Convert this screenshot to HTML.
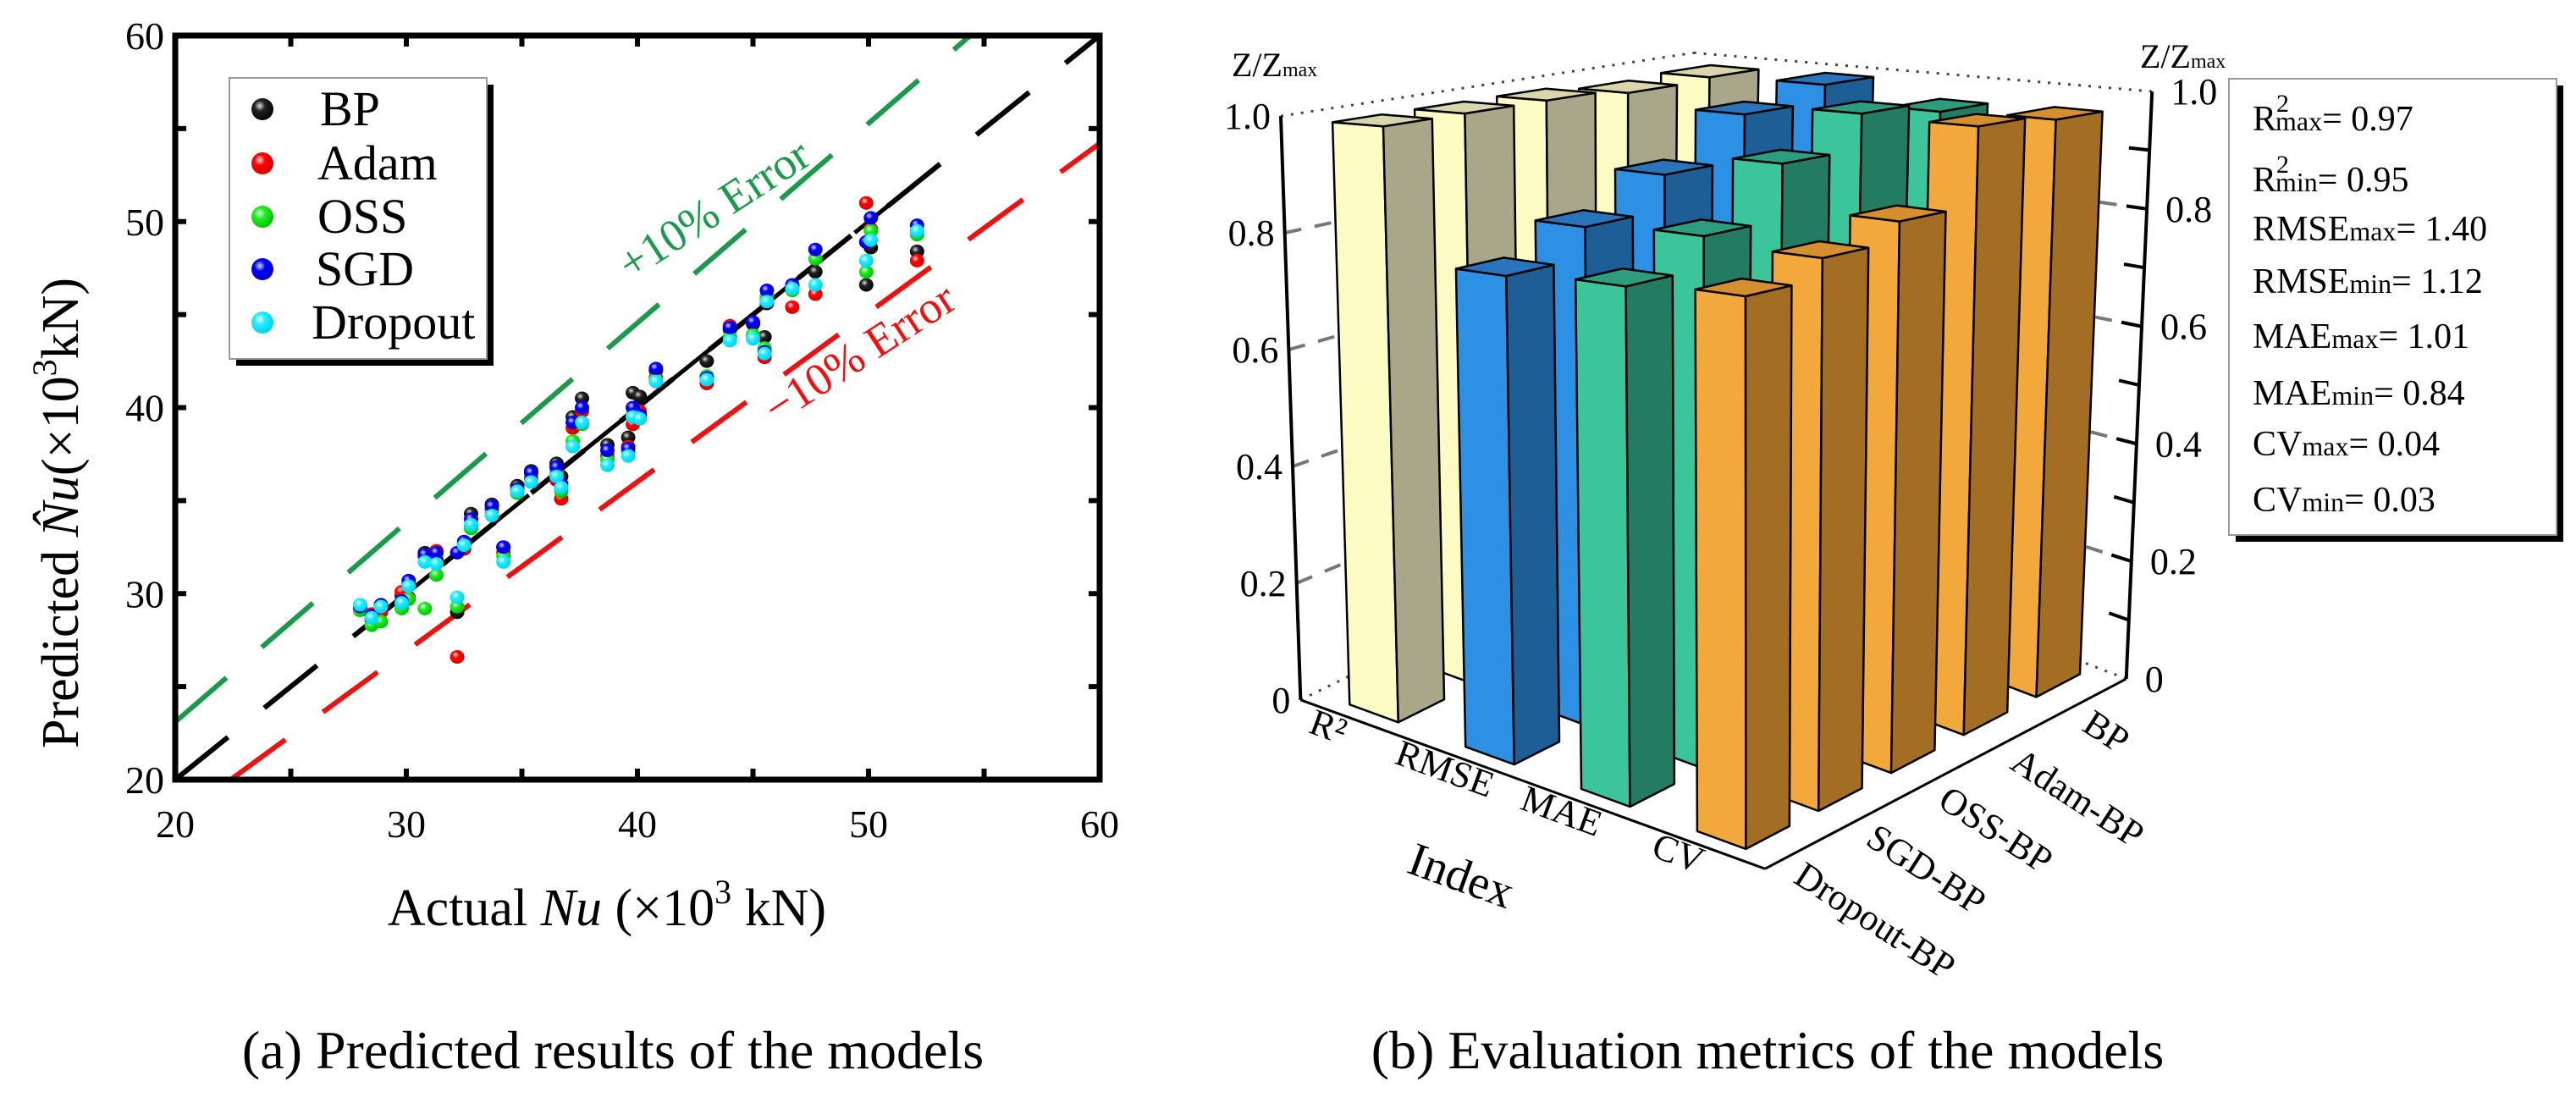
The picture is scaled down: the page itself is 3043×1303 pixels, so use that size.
<!DOCTYPE html>
<html><head><meta charset="utf-8"><style>
html,body{margin:0;padding:0;background:#fff;}
svg{display:block;font-family:"Liberation Serif",serif;}
</style></head><body>
<svg id="fig" width="3043" height="1303" viewBox="0 0 3043 1303" xmlns="http://www.w3.org/2000/svg">
<defs>
<radialGradient id="gBP" cx="0.38" cy="0.35" r="0.7"><stop offset="0" stop-color="#ddd"/><stop offset="0.35" stop-color="#222"/><stop offset="1" stop-color="#000"/></radialGradient>
<radialGradient id="gAdam" cx="0.38" cy="0.35" r="0.7"><stop offset="0" stop-color="#fdd"/><stop offset="0.35" stop-color="#f00"/><stop offset="1" stop-color="#c00"/></radialGradient>
<radialGradient id="gOSS" cx="0.38" cy="0.35" r="0.7"><stop offset="0" stop-color="#dfd"/><stop offset="0.35" stop-color="#2e2"/><stop offset="1" stop-color="#0b0"/></radialGradient>
<radialGradient id="gSGD" cx="0.38" cy="0.35" r="0.7"><stop offset="0" stop-color="#ddf"/><stop offset="0.35" stop-color="#00f"/><stop offset="1" stop-color="#00b"/></radialGradient>
<radialGradient id="gDrop" cx="0.38" cy="0.35" r="0.7"><stop offset="0" stop-color="#eff"/><stop offset="0.35" stop-color="#2ef"/><stop offset="1" stop-color="#0ce"/></radialGradient>
</defs>
<g id="left"></g>
<g id="right"></g>
<text x="724" y="1262" font-size="64" text-anchor="middle">(a) Predicted results of the models</text>
<text x="2088" y="1262" font-size="64" text-anchor="middle">(b) Evaluation metrics of the models</text>
</svg>
<script>
// ---------- Panel (a) data ----------
const xTicks = [20, 30, 40, 50, 60];
const yTicks = [20, 30, 40, 50, 60];
const actual = [28.0,28.5,28.9,29.8,30.1,30.8,31.3,32.2,32.5,32.8,33.7,34.2,34.8,35.4,36.5,36.7,37.2,37.6,38.7,39.6,39.8,40.1,40.8,43.0,44.0,45.0,45.5,45.6,46.7,47.7,49.9,50.1,52.1];
const bpPred = [29.2,28.6,29.3,29.9,30.5,32.2,31.8,29.0,32.6,34.3,34.8,32.5,35.8,36.6,37.0,36.3,39.5,40.5,38.0,38.4,40.8,40.6,42.0,42.5,44.2,44.5,43.8,45.6,46.5,47.3,46.6,48.6,48.4];
const adamPred = [29.2,28.9,29.0,30.1,29.8,32.0,32.3,26.6,32.4,33.6,34.5,32.2,35.5,36.2,36.1,35.1,38.9,39.8,37.4,37.9,39.1,39.8,41.6,41.3,44.4,43.9,42.7,45.8,45.4,46.1,51.0,49.6,47.9];
const ossPred = [29.1,28.3,28.5,29.2,29.7,29.2,31.0,29.3,32.7,33.5,34.3,32.0,35.4,36.0,36.5,35.5,38.2,39.1,37.2,37.6,39.6,39.5,41.5,41.7,43.8,43.9,43.2,46.0,46.3,48.0,47.3,49.5,49.3];
const sgdPred = [29.3,28.8,29.4,29.6,30.7,32.1,32.2,32.2,32.8,34.0,34.7,32.5,35.6,36.5,36.8,35.9,39.2,40.0,37.7,37.8,40.0,39.6,42.1,41.6,44.3,44.6,43.0,46.3,46.6,48.5,48.9,50.2,49.8];
const dropPred = [29.4,28.7,29.3,29.5,30.4,31.7,31.6,29.8,32.6,33.7,34.2,31.7,35.5,36.0,36.3,35.7,37.9,39.2,36.9,37.4,39.5,39.4,41.4,41.5,43.6,43.7,42.9,45.7,46.4,46.6,47.9,49.0,49.5];
const fitSegments = [[28.3,31.2],[32.7,35.3],[36.6,39.6],[41.0,43.9],[45.3,47.9],[49.4,52.1]];

// ---------- Panel (b) data ----------
const indexLabels = ['R\u00B2','RMSE','MAE','CV'];
const modelLabels = ['BP','Adam-BP','OSS-BP','SGD-BP','Dropout-BP'];
const r2Vals   = [0.985,0.98,0.99,0.99,0.99];
const rmseVals = [0.99,0.96,0.88,0.82,0.77];
const maeVals  = [0.96,0.98,0.92,0.83,0.78];
const cvVals   = [0.965,0.976,0.85,0.82,0.79];
const zTicks = [0,0.2,0.4,0.6,0.8,1.0];
const zTickLabels = ['0','0.2','0.4','0.6','0.8','1.0'];

const NS='http://www.w3.org/2000/svg';
function mk(parent, tag, attrs){ const e=document.createElementNS(NS,tag); for(const k in attrs) e.setAttribute(k,attrs[k]); parent.appendChild(e); return e; }

// ===== Panel (a) =====
const L = document.getElementById('left');
const X = v => 207 + (v-20)*27.3;
const Y = v => 921 - (v-20)*21.975;

function refLine(x1,y1,x2,y2,color,name){
  const l=mk(L,'line',{x1:X(x1),y1:Y(y1),x2:X(x2),y2:Y(y2),stroke:color,'stroke-width':6,'stroke-dasharray':'80 55'});
  
  
}
refLine(20,23.1,54.4,60,'#1a9a4a','plus10-error-line');
refLine(20,20,60,60,'#000','ideal-line');
refLine(22.4,20,60,54.2,'#ee1111','minus10-error-line');
fitSegments.forEach(s=>{
  const l=mk(L,'line',{x1:X(s[0]),y1:Y(s[0]),x2:X(s[1]),y2:Y(s[1]),stroke:'#000','stroke-width':5});
  
  
});
const series=[['bp',bpPred,'gBP'],['adam',adamPred,'gAdam'],['oss',ossPred,'gOSS'],['sgd',sgdPred,'gSGD'],['dropout',dropPred,'gDrop']];
series.forEach(s=>{
  s[1].forEach((v,i)=>{
    const c=mk(L,'ellipse',{cx:X(actual[i]),cy:Y(v),rx:8.5,ry:8,fill:'url(#'+s[2]+')'});
    
    
  });
});
const fr=mk(L,'rect',{x:X(20),y:Y(60),width:X(60)-X(20),height:Y(20)-Y(60),fill:'none',stroke:'#000','stroke-width':7});


for(let v=25; v<60; v+=5){
  mk(L,'line',{x1:X(v),y1:Y(20),x2:X(v),y2:Y(20)-13,stroke:'#000','stroke-width':6});
  mk(L,'line',{x1:X(v),y1:Y(60),x2:X(v),y2:Y(60)+13,stroke:'#000','stroke-width':6});
  mk(L,'line',{x1:X(20),y1:Y(v),x2:X(20)+13,y2:Y(v),stroke:'#000','stroke-width':6});
  mk(L,'line',{x1:X(60),y1:Y(v),x2:X(60)-13,y2:Y(v),stroke:'#000','stroke-width':6});
}
xTicks.forEach(t=>{
  const e=mk(L,'text',{x:X(t),y:989,'font-size':46,'text-anchor':'middle'}); e.textContent=t;
  
  
});
yTicks.forEach(t=>{
  const e=mk(L,'text',{x:194,y:Y(t)+16,'font-size':46,'text-anchor':'end'}); e.textContent=t;
  
  
});
</script>
<script>
(function(){
const L=document.getElementById('left');
L.insertAdjacentHTML('beforeend',`
<g>
<rect x="279" y="100" width="304" height="332" fill="#000"/>
<rect x="271" y="92" width="304" height="332" fill="#fff" stroke="#999" stroke-width="2"/>
<circle cx="310" cy="129" r="13" fill="url(#gBP)"/><text x="378" y="148" font-size="58">BP</text>
<circle cx="310" cy="193" r="13" fill="url(#gAdam)"/><text x="375" y="212" font-size="58">Adam</text>
<circle cx="310" cy="256" r="13" fill="url(#gOSS)"/><text x="375" y="275" font-size="58">OSS</text>
<circle cx="310" cy="318" r="13" fill="url(#gSGD)"/><text x="373" y="337" font-size="58">SGD</text>
<circle cx="310" cy="381" r="13" fill="url(#gDrop)"/><text x="368" y="400" font-size="58">Dropout</text>
</g>
<text transform="translate(853,262) rotate(-33)" font-size="54" fill="#1a9a4a" text-anchor="middle">+10% Error</text>
<text transform="translate(1025,432) rotate(-33)" font-size="54" fill="#ee1111" text-anchor="middle">&#8722;10% Error</text>
<text x="717" y="1093" font-size="62" text-anchor="middle">Actual  <tspan font-style="italic">Nu</tspan> (×10<tspan dy="-26" font-size="40">3</tspan><tspan dy="26"> kN)</tspan></text>
<text transform="translate(92,606) rotate(-90)" font-size="62" text-anchor="middle">Predicted <tspan font-style="italic">N&#770;u</tspan>(×10<tspan dy="-26" font-size="40">3</tspan><tspan dy="26">kN)</tspan></text>
`);
})();
</script>
<script>
(function(){
const R=document.getElementById('right');
function P(a,b,h){
  const s=1015-185*a-180*b;
  const zx=625-540*a+420*b+30*a*b + h*(-23*a+30*b);
  const zy=1235-240*a-270*b - h*s;
  return [1450+zx*1.016, zy*0.831];
}
function pt(p){return p[0].toFixed(1)+','+p[1].toFixed(1);}
function line(p,q,attrs,name){
  const a=Object.assign({x1:p[0],y1:p[1],x2:q[0],y2:q[1]},attrs);
  const l=mk(R,'line',a);
  
  
  return l;
}
line(P(1,0,1),P(1,1,1),{stroke:'#444','stroke-width':3,'stroke-dasharray':'3 9'},'top-back-edge-left');
line(P(1,1,1),P(0,1,1),{stroke:'#444','stroke-width':3,'stroke-dasharray':'3 9'},'top-back-edge-right');
line(P(1,0,0),P(1,1,0),{stroke:'#444','stroke-width':3,'stroke-dasharray':'3 9'},'floor-back-edge-left');
line(P(1,1,0),P(0,1,0),{stroke:'#444','stroke-width':3,'stroke-dasharray':'3 9'},'floor-back-edge-right');
zTicks.forEach(t=>{
  if(t>0 && t<1){
    line(P(1,0,t),P(1,1,t),{stroke:'#777','stroke-width':4,'stroke-dasharray':'20 16'},'left-wall-grid');
    line(P(0,1,t),P(1,1,t),{stroke:'#777','stroke-width':4,'stroke-dasharray':'20 16'},'right-wall-grid');
  }
});
const cols=[['r2',r2Vals,'#fdfbc4','#a9a78a','#d8d6aa'],['rmse',rmseVals,'#2e90e2','#1d5e96','#2a74bb'],['mae',maeVals,'#3cc59b','#237b62','#2e9c7f'],['cv',cvVals,'#f3a83c','#a36e24','#d68f2e']];
const bars=[];
cols.forEach((c,ci)=>{
  const k=3-ci;
  c[1].forEach((v,i)=>{ bars.push({k:k,m:4-i,v:v,c:c}); });
});
bars.sort((p,q)=>(q.k+q.m)-(p.k+p.m));
const wa=0.105, wb=0.12;
bars.forEach(B=>{
  const a0=0.25*B.k+0.0725, b0=0.2*B.m+0.04, h=B.v;
  const g=mk(R,'g',{stroke:'#000','stroke-width':2.5,'stroke-linejoin':'round'});
  
  
  mk(g,'polygon',{points:[P(a0,b0,0),P(a0+wa,b0,0),P(a0+wa,b0,h),P(a0,b0,h)].map(pt).join(' '),fill:B.c[2]});
  mk(g,'polygon',{points:[P(a0,b0,0),P(a0,b0+wb,0),P(a0,b0+wb,h),P(a0,b0,h)].map(pt).join(' '),fill:B.c[3]});
  mk(g,'polygon',{points:[P(a0,b0,h),P(a0+wa,b0,h),P(a0+wa,b0+wb,h),P(a0,b0+wb,h)].map(pt).join(' '),fill:B.c[4]});
});
line(P(1,0,0),P(0,0,0),{stroke:'#000','stroke-width':3},'index-axis');
line(P(0,0,0),P(0,1,0),{stroke:'#000','stroke-width':3},'model-axis');
line(P(1,0,0),P(1,0,1),{stroke:'#000','stroke-width':4},'left-z-axis');
line(P(0,1,0),P(0,1,1),{stroke:'#000','stroke-width':4},'right-z-axis');
for(let i=1;i<10;i++){
  const t=i/10, p=P(0,1,t), q=P(0.045,1,t);
  line(p,q,{stroke:'#000','stroke-width':4},'right-z-minor-tick');
}
zTicks.forEach((t,i)=>{
  const p=P(1,0,t);
  const e=mk(R,'text',{x:p[0]-12,y:p[1]+15,'font-size':44,'text-anchor':'end'}); e.textContent=zTickLabels[i];
  
  
  const q=P(0,1,t);
  const f=mk(R,'text',{x:q[0]+22,y:q[1]+15,'font-size':44,'text-anchor':'start'}); f.textContent=zTickLabels[i];
  
  
});
indexLabels.forEach((s,i)=>{
  const a=1-(i+0.5)/4;
  const p=P(a,-0.09,0);
  const e=mk(R,'text',{transform:'translate('+p[0].toFixed(1)+','+p[1].toFixed(1)+') rotate(20)','font-size':44,'text-anchor':'middle'});
  e.textContent=s;
  
  
});
modelLabels.forEach((s,i)=>{
  const b=1-(i+0.5)/5;
  const p=P(-0.02,b,0);
  const e=mk(R,'text',{transform:'translate('+p[0].toFixed(1)+','+p[1].toFixed(1)+') rotate(33)','font-size':44,'text-anchor':'start',dy:'40'});
  e.textContent=s;
  
  
});
R.insertAdjacentHTML('beforeend',`
<text transform="translate(1660,1030) rotate(20)" font-size="56">Index</text>
<text x="1455" y="90" font-size="40">Z/Z<tspan font-size="24">max</tspan></text>
<text x="2528" y="80" font-size="40">Z/Z<tspan font-size="24">max</tspan></text>
<g>
<rect x="2641" y="101" width="387" height="539" fill="#000"/>
<rect x="2633" y="93" width="387" height="539" fill="#fff" stroke="#999" stroke-width="2"/>
<g font-size="42">
<text x="2661" y="154">R<tspan dy="-22" font-size="30">2</tspan><tspan dx="-16" dy="22" font-size="32">max</tspan>= 0.97</text>
<text x="2661" y="226">R<tspan dy="-22" font-size="30">2</tspan><tspan dx="-16" dy="22" font-size="32">min</tspan>= 0.95</text>
<text x="2661" y="284">RMSE<tspan font-size="32">max</tspan>= 1.40</text>
<text x="2661" y="346">RMSE<tspan font-size="32">min</tspan>= 1.12</text>
<text x="2661" y="411">MAE<tspan font-size="32">max</tspan>= 1.01</text>
<text x="2661" y="478">MAE<tspan font-size="32">min</tspan>= 0.84</text>
<text x="2661" y="538">CV<tspan font-size="32">max</tspan>= 0.04</text>
<text x="2661" y="604">CV<tspan font-size="32">min</tspan>= 0.03</text>
</g></g>`);
})();
</script>
</body></html>
